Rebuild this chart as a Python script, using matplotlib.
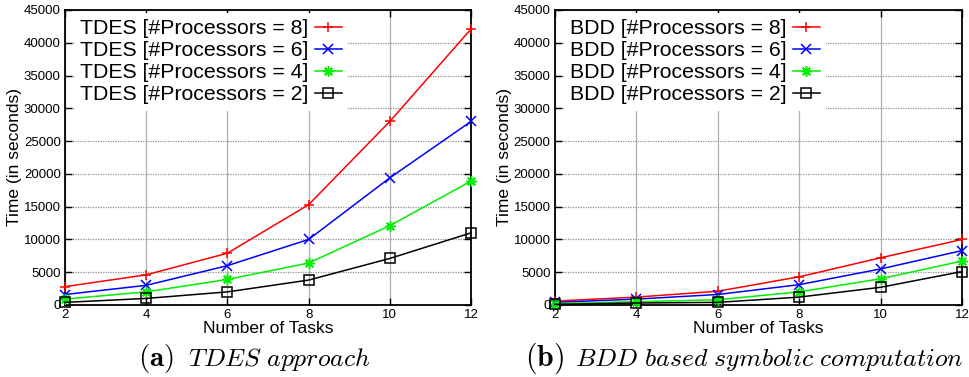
import matplotlib
matplotlib.use("Agg")
import matplotlib.pyplot as plt

plt.rcParams['font.family'] = ['Liberation Sans', 'DejaVu Sans']
plt.rcParams['mathtext.fontset'] = 'cm'

tasks = [2, 4, 6, 8, 10, 12]
processors = [8, 6, 4, 2]

# TDES approach timings (seconds)
tdes_p8 = [2800, 4600, 7900, 15300, 28000, 42100]
tdes_p6 = [1600, 3000, 6000, 10000, 19400, 28000]
tdes_p4 = [900, 2000, 3900, 6400, 12100, 18900]
tdes_p2 = [400, 1000, 2000, 3800, 7100, 11000]

# BDD based symbolic computation timings (seconds)
bdd_p8 = [600, 1200, 2100, 4300, 7200, 10000]
bdd_p6 = [400, 900, 1600, 3100, 5500, 8300]
bdd_p4 = [200, 500, 800, 2000, 4000, 6700]
bdd_p2 = [100, 300, 400, 1200, 2700, 5100]

y_ticks = list(range(0, 45001, 5000))
colors = ['#ff0000', '#0000ff', '#00ee00', '#000000']
markers = ['+', 'x', (8, 2, 0), 's']
msizes = [7.5, 7.5, 7.5, 6.5]

fig = plt.figure(figsize=(9.7, 3.77), dpi=100)
ax_a = fig.add_axes([0.067, 0.191, 0.4186, 0.7825])
ax_b = fig.add_axes([0.572, 0.191, 0.4198, 0.7825])

panels = [
    (ax_a, 'TDES', [tdes_p8, tdes_p6, tdes_p4, tdes_p2]),
    (ax_b, 'BDD', [bdd_p8, bdd_p6, bdd_p4, bdd_p2]),
]

for ax, name, series in panels:
    for vals, p, c, m, ms in zip(series, processors, colors, markers, msizes):
        kw = dict(color=c, lw=1.1, marker=m, markersize=ms, markeredgewidth=1.1,
                  label=f'{name} [#Processors = {p}]', clip_on=False, zorder=3)
        if m == 's':
            kw['markerfacecolor'] = 'none'
        ax.plot(tasks, vals, **kw)
    ax.set_xlim(2, 12)
    ax.set_ylim(0, 45000)
    ax.set_xticks(tasks)
    ax.set_yticks(y_ticks)
    ax.tick_params(direction='in', top=True, right=True, labelsize=9.5,
                   length=5, width=1, pad=3)
    ax.xaxis.grid(True, color='#b0b0b0', lw=0.9, ls='-')
    ax.yaxis.grid(True, color='#909090', lw=0.9, ls=(0, (1, 1)))
    ax.set_axisbelow(True)
    for s in ax.spines.values():
        s.set_linewidth(1.3)
    ax.set_xlabel('Number of Tasks', fontsize=12.5, labelpad=0)
    ax.set_ylabel('Time (in seconds)', fontsize=12.5, labelpad=1)
    leg = ax.legend(loc='upper left', bbox_to_anchor=(0.022, 0.99), markerfirst=False,
                    fontsize=15.3, frameon=True, framealpha=1, edgecolor='none',
                    fancybox=False, handlelength=1.25, handletextpad=0.3,
                    labelspacing=0.14, borderpad=0.3, borderaxespad=0.0)
    leg.set_zorder(5)

# Sub-figure captions
base_y = 0.029
fig.text(138 / 970, base_y, r'$\mathbf{(a)}$', fontsize=21, ha='left', va='baseline')
fig.text(188 / 970, base_y, r'$\mathit{TDES\ approach}$', fontsize=18.5, ha='left',
         va='baseline')
fig.text(525 / 970, base_y, r'$\mathbf{(b)}$', fontsize=21.5, ha='left', va='baseline')
fig.text(575 / 970, base_y, r'$\mathit{BDD\ based\ symbolic\ computation}$',
         fontsize=18.5, ha='left', va='baseline')

fig.savefig('out.png', dpi=100)
